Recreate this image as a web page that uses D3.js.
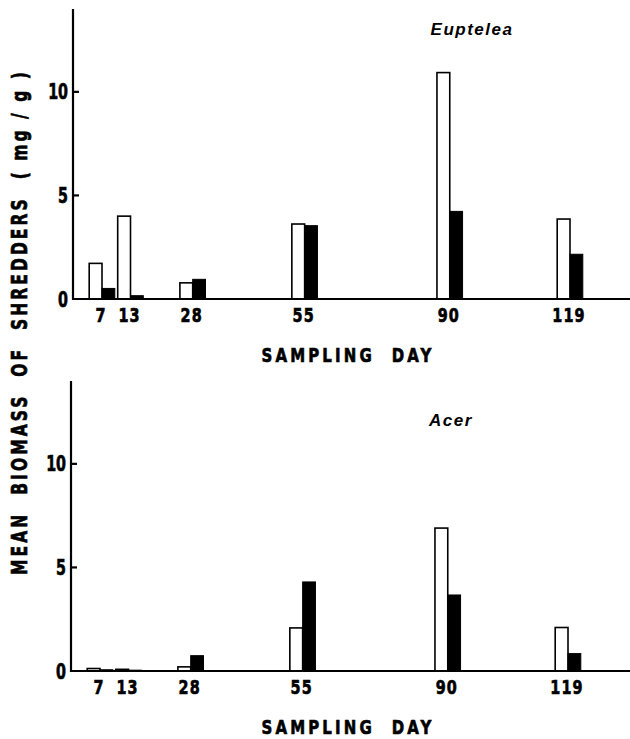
<!DOCTYPE html>
<html>
<meta charset="utf-8">
<style>
  body { margin: 0; background: #fff; }
  .cond { font-family: "DejaVu Sans", sans-serif; font-weight: bold; stroke: #000; stroke-width: 0.7; }
  .species { font-family: "Liberation Sans", Arial, sans-serif; font-weight: bold; font-style: italic; font-size: 17px; letter-spacing: 1.5px; }
  .axis-line { stroke: #000; stroke-width: 2.2; }
  .open { fill: #fff; stroke: #000; stroke-width: 1.6; }
  .filled { fill: #000; stroke: #000; stroke-width: 1; }
</style>
<body>
<script src="https://d3js.org/d3.v7.min.js"></script>
<script>
  // sampling days and mean shredder biomass (mg/g), open and filled bars
  const days = [7, 13, 28, 55, 90, 119];
  const eupteleaOpen = [1.72, 4.0, 0.78, 3.62, 10.93, 3.86];
  const eupteleaFilled = [0.51, 0.16, 0.95, 3.54, 4.23, 2.16];
  const acerOpen = [0.12, 0.08, 0.2, 2.08, 6.9, 2.1];
  const acerFilled = [0.06, 0.04, 0.74, 4.3, 3.67, 0.84];
  const yTicks = [0, 5, 10];

  let width = 630,
    height = 739;

  let svg = d3.select("body").append("svg")
    .attr("width", width)
    .attr("height", height);

  let barW = 12.8;
  // the original spreads day 7 and 13 a little more than the rest
  let x = d3.scaleLinear().domain([7, 13, 119]).range([102, 130.5, 570]);

  // no condensed face installed, so squeeze the bold one sideways
  function condText(parent, tx, ty, str, size, spacing, anchor, sx) {
    return parent.append("g")
      .attr("transform", "translate(" + tx + "," + ty + ") scale(" + (sx || 0.7) + ",1)")
      .append("text")
      .attr("class", "cond")
      .attr("text-anchor", anchor)
      .attr("font-size", size)
      .attr("letter-spacing", spacing)
      .attr("xml:space", "preserve")
      .text(str);
  }

  // one panel per leaf species
  function panel(name, openVals, filledVals, top, zero, axisX, nameX, nameY) {
    let y = d3.scaleLinear().domain([0, 14]).range([zero, top]);
    let dx = axisX - 73;
    let g = svg.append("g");

    g.append("text")
      .attr("class", "species")
      .attr("x", nameX)
      .attr("y", nameY)
      .attr("text-anchor", "middle")
      .text(name);

    let rows = days.map((d, i) => ({ day: d, open: openVals[i], filled: filledVals[i] }));

    g.selectAll(".open")
      .data(rows)
      .enter().append("rect")
      .attr("class", "open")
      .attr("x", d => x(d.day) - barW + dx)
      .attr("width", barW)
      .attr("y", d => y(d.open))
      .attr("height", d => y(0) - y(d.open));

    g.selectAll(".filled")
      .data(rows)
      .enter().append("rect")
      .attr("class", "filled")
      .attr("x", d => x(d.day) + dx)
      .attr("width", barW)
      .attr("y", d => y(d.filled))
      .attr("height", d => y(0) - y(d.filled));

    // axes
    g.append("line").attr("class", "axis-line")
      .attr("x1", axisX).attr("x2", axisX)
      .attr("y1", y(14)).attr("y2", y(0) + 1);
    g.append("line").attr("class", "axis-line")
      .attr("x1", axisX - 1).attr("x2", width)
      .attr("y1", y(0)).attr("y2", y(0));

    g.selectAll(".ytick")
      .data(yTicks.filter(t => t > 0))
      .enter().append("line")
      .attr("class", "axis-line")
      .attr("x1", axisX).attr("x2", axisX + 6)
      .attr("y1", d => y(d)).attr("y2", d => y(d));

    yTicks.forEach(t => condText(g, axisX - 5, y(t) + 7.5, t, 21, 0, "end", 0.68));
    days.forEach(d => condText(g, x(d) + dx - 1, zero + 23, d, 20, 1.5, "middle", 0.72));

    condText(g, 348, zero + 63, "SAMPLING  DAY", 20, 4.2, "middle", 0.75);
  }

  panel("Euptelea", eupteleaOpen, eupteleaFilled, 9, 299, 73, 472, 35);
  panel("Acer", acerOpen, acerFilled, 381, 671, 71, 451, 426);

  // shared y title
  svg.append("g")
    .attr("transform", "translate(27,322) rotate(-90) scale(0.74,1)")
    .append("text")
    .attr("class", "cond")
    .attr("text-anchor", "middle")
    .attr("font-size", 21)
    .attr("letter-spacing", 4.1)
    .attr("xml:space", "preserve")
    .text("MEAN  BIOMASS  OF  SHREDDERS  ( mg / g )");
</script>
</body>
</html>
